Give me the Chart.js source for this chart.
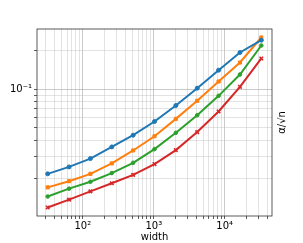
<!DOCTYPE html>
<html><head><meta charset="utf-8">
<script src="https://cdn.jsdelivr.net/npm/chart.js@4/dist/chart.umd.min.js"></script>
<style>html,body{margin:0;padding:0;background:#fff}#wrap{width:303px;height:243px}</style>
</head><body><div id="wrap"><canvas id="c" width="303" height="243"></canvas></div>
<script>
const widths = [32, 64, 128, 256, 512, 1024, 2048, 4096, 8192, 16384, 32768];
const seriesBlue   = [0.0218, 0.0247, 0.0287, 0.0354, 0.0437, 0.0559, 0.0746, 0.1018, 0.1407, 0.1934, 0.2414];
const seriesOrange = [0.0171, 0.0191, 0.0218, 0.0263, 0.0332, 0.0429, 0.0586, 0.0811, 0.1148, 0.1615, 0.2533];
const seriesGreen  = [0.0145, 0.0167, 0.0189, 0.0221, 0.0266, 0.0340, 0.0456, 0.0626, 0.0887, 0.1302, 0.2193];
const seriesRed    = [0.0119, 0.0137, 0.0159, 0.0184, 0.0214, 0.0260, 0.0334, 0.0462, 0.0669, 0.1043, 0.1737];
const xTitle = 'width';
const yTitle = 'α/√n';
const sup = {'-':'⁻','0':'⁰','1':'¹','2':'²','3':'³','4':'⁴','5':'⁵','6':'⁶','7':'⁷','8':'⁸','9':'⁹'};
function pow10Label(v){
  const e = Math.round(Math.log10(v));
  if (Math.abs(Math.pow(10,e)-v) > 1e-9*v) return '';
  return '10' + String(e).split('').map(c=>sup[c]).join('');
}
function isMajor(v){ const e=Math.round(Math.log10(v)); return Math.abs(Math.pow(10,e)-v) <= 1e-9*v; }
function logTicks(min,max){
  const out=[];
  for(let e=Math.floor(Math.log10(min)); e<=Math.ceil(Math.log10(max)); e++){
    for(let m=1;m<10;m++){ const v=m*Math.pow(10,e); if(v>=min&&v<=max) out.push({value:v}); }
  }
  return out;
}
function pad(arr){ const lo=Math.log10(Math.min(...arr)), hi=Math.log10(Math.max(...arr)); const d=(hi-lo)*0.05; return [Math.pow(10,lo-d), Math.pow(10,hi+d)]; }
const allY = [].concat(seriesBlue, seriesOrange, seriesGreen, seriesRed);
const [xmin,xmax] = pad(widths);
const [ymin,ymax] = pad(allY);
function mk(label, vals, color, style, r, bw){
  return {label, data: widths.map((w,i)=>({x:w,y:vals[i]})), borderColor:color, backgroundColor:color,
    borderWidth:2, pointStyle:style, pointRadius:r, pointBorderWidth:bw, tension:0};
}
const frame = {
  id:'frame',
  afterDraw(chart){
    const {ctx, chartArea:a} = chart;
    ctx.save();
    ctx.strokeStyle='#333'; ctx.lineWidth=0.8;
    ctx.strokeRect(a.left, a.top, a.right-a.left, a.bottom-a.top);
    ctx.fillStyle='#000';
    ctx.font='10px "DejaVu Sans"';
    ctx.translate(a.right+10, (a.top+a.bottom)/2);
    ctx.rotate(-Math.PI/2);
    ctx.textAlign='center'; ctx.textBaseline='middle';
    ctx.fillText(yTitle, 0, 0);
    ctx.restore();
  }
};
new Chart(document.getElementById('c'), {
  type:'line',
  data:{datasets:[
    mk('blue', seriesBlue, '#1f77b4', 'circle', 2, 1),
    mk('orange', seriesOrange, '#ff7f0e', 'rect', 2.2, 1),
    mk('green', seriesGreen, '#2ca02c', 'circle', 1.8, 1),
    mk('red', seriesRed, '#d62728', 'crossRot', 2.5, 1.6)
  ]},
  options:{
    responsive:false, animation:false, devicePixelRatio:1,
    layout:{padding:{left:0, right:31, top:29, bottom:0}},
    plugins:{legend:{display:false}, tooltip:{enabled:false}},
    scales:{
      x:{type:'logarithmic', min:xmin, max:xmax,
        afterBuildTicks(s){ s.ticks = logTicks(xmin,xmax); },
        afterFit(s){ s.height = 27; },
        ticks:{autoSkip:false, maxRotation:0, minRotation:0, padding:1, color:'#000',
          font:{family:'DejaVu Sans', size:10}, callback:(v)=>pow10Label(v)},
        grid:{color:(c)=> isMajor(c.tick.value)?'rgba(160,160,160,0.7)':'rgba(190,190,190,0.55)', lineWidth:0.8, tickLength:3, tickColor:'#333'},
        border:{display:false},
        title:{display:true, text:xTitle, color:'#000', font:{family:'DejaVu Sans', size:10}, padding:{top:0,bottom:0}}
      },
      y:{type:'logarithmic', min:ymin, max:ymax,
        afterBuildTicks(s){ s.ticks = logTicks(ymin,ymax); },
        afterFit(s){ s.width = 37; },
        ticks:{autoSkip:false, padding:2, color:'#000',
          font:{family:'DejaVu Sans', size:10}, callback:(v)=>pow10Label(v)},
        grid:{color:(c)=> isMajor(c.tick.value)?'rgba(160,160,160,0.7)':'rgba(190,190,190,0.55)', lineWidth:0.8, tickLength:3, tickColor:'#333'},
        border:{display:false}
      }
    }
  },
  plugins:[frame]
});
</script></body></html>
